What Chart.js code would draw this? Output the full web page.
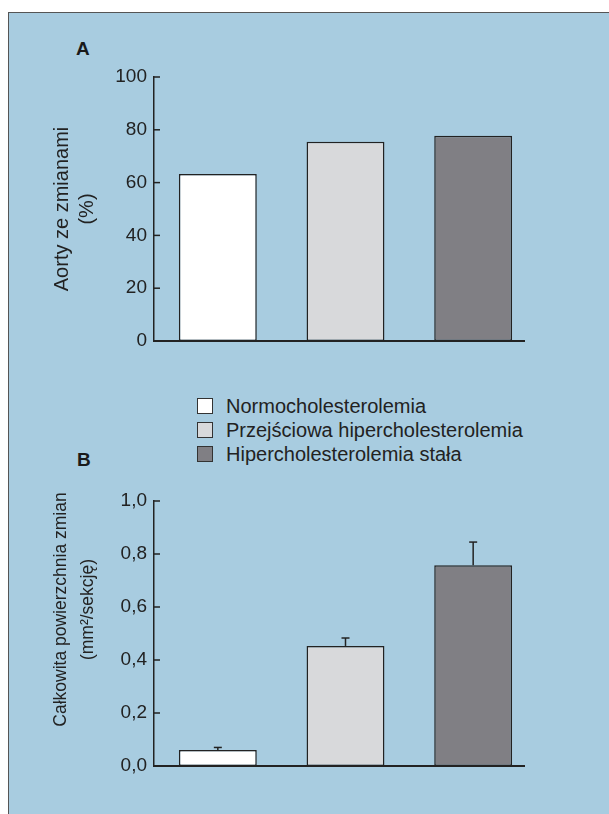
<!DOCTYPE html>
<html><head><meta charset="utf-8">
<script src="https://cdn.jsdelivr.net/npm/chart.js@4"></script>
<style>
html,body{margin:0;padding:0;background:#fff;width:609px;height:814px;overflow:hidden;font-family:"Liberation Sans",Arial,sans-serif;}
#panel{position:absolute;left:8px;top:12px;width:620px;height:820px;background:#a8cce0;border-left:1.5px solid #555;border-top:1.5px solid #555;}
canvas{position:absolute;left:0;top:0;}
.lbl{position:absolute;font-weight:bold;font-size:19px;color:#1a1a1a;line-height:22px;}
#legend{position:absolute;left:197px;top:394px;font-size:20px;color:#222;}
#legend div{height:24px;line-height:22px;display:flex;align-items:center;}
#legend span.sw{display:inline-block;width:14px;height:14px;border:1.3px solid #333;margin-right:13px;}
</style></head>
<body>
<div id="panel"></div>
<div class="lbl" style="left:76px;top:38px;">A</div>
<div class="lbl" style="left:77px;top:449px;">B</div>
<div id="legend"></div>
<canvas id="cA" width="609" height="814"></canvas>
<canvas id="cB" width="609" height="814"></canvas>
<script>
const categories = ['Normocholesterolemia','Przejściowa hipercholesterolemia','Hipercholesterolemia stała'];
const barColors = ['#ffffff','#d8d9db','#807f84'];
const valuesA = [63.3, 75.5, 77.7];
const valuesB = [0.06, 0.453, 0.758];
const errorsB = [0.01, 0.03, 0.087];
const ticksA = ['0','20','40','60','80','100'];
const ticksB = ['0,0','0,2','0,4','0,6','0,8','1,0'];
const titleA = ['Aorty ze zmianami','(%)'];
const titleB = ['Całkowita powierzchnia zmian','(mm²/sekcję)'];

const leg = document.getElementById('legend');
categories.forEach((c,i)=>{
  const d=document.createElement('div');
  d.innerHTML='<span class="sw" style="background:'+barColors[i]+'"></span>'+c;
  leg.appendChild(d);
});

const FONT = "'Liberation Sans', Arial, sans-serif";
const ink = '#222';

const axisPlugin = {
  id:'axisDecor',
  afterDraw(chart){
    const ctx=chart.ctx, y=chart.scales.y, a=chart.chartArea;
    const opt=chart.options.plugins.axisDecor;
    ctx.save();
    ctx.strokeStyle=ink; ctx.lineWidth=1.5;
    // inward ticks
    y.ticks.forEach(t=>{
      const py=y.getPixelForValue(t.value);
      ctx.beginPath(); ctx.moveTo(a.left,py); ctx.lineTo(a.left+6,py); ctx.stroke();
    });
    // x axis baseline
    const py0=y.getPixelForValue(0);
    ctx.lineWidth=2;
    ctx.beginPath(); ctx.moveTo(a.left,py0); ctx.lineTo(a.right-12,py0); ctx.stroke();
    // error bars
    if(opt.errors){
      const meta=chart.getDatasetMeta(0);
      const vals=chart.data.datasets[0].data;
      ctx.lineWidth=1.5;
      meta.data.forEach((bar,i)=>{
        const top=y.getPixelForValue(vals[i]);
        const e=y.getPixelForValue(vals[i]+opt.errors[i]);
        ctx.beginPath(); ctx.moveTo(bar.x,top); ctx.lineTo(bar.x,e); ctx.stroke();
        ctx.beginPath(); ctx.moveTo(bar.x-4,e); ctx.lineTo(bar.x+4,e); ctx.stroke();
      });
    }
    // axis title (rotated, multi-line)
    const t=opt.title;
    ctx.fillStyle=ink;
    ctx.font=t.size+'px '+FONT;
    ctx.textAlign='center'; ctx.textBaseline='middle';
    const cy=(a.top+a.bottom)/2+t.shift;
    t.text.forEach((line,i)=>{
      ctx.save();
      ctx.translate(t.x+i*t.gap, cy);
      ctx.rotate(-Math.PI/2);
      ctx.fillText(line,0,0);
      ctx.restore();
    });
    ctx.restore();
  }
};

function makeChart(id, values, max, step, tickLabels, title, pad, errors){
  return new Chart(document.getElementById(id),{
    type:'bar',
    data:{labels:categories,datasets:[{data:values,backgroundColor:barColors,borderColor:ink,borderWidth:1.5,borderSkipped:false,barPercentage:0.61,categoryPercentage:1}]},
    options:{
      responsive:false,animation:false,events:[],
      layout:{padding:pad},
      plugins:{legend:{display:false},tooltip:{enabled:false},axisDecor:{errors:errors,title:title}},
      scales:{
        x:{display:true,ticks:{display:false},grid:{display:false},border:{display:false},afterFit:s=>{s.height=0;}},
        y:{min:0,max:max,
           ticks:{stepSize:step,padding:7,color:ink,font:{family:FONT,size:19},callback:(v,i)=>tickLabels[i]},
           grid:{display:false,drawTicks:false},
           border:{display:true,color:ink,width:1.5},
           title:{display:false},
           afterFit:s=>{s.width=104;}}
      }
    },
    plugins:[axisPlugin]
  });
}
makeChart('cA', valuesA, 100, 20, ticksA, {text:titleA,size:20,x:62,gap:25,shift:0}, {left:50,right:72,top:77,bottom:473}, null);
makeChart('cB', valuesB, 1.0, 0.2, ticksB, {text:titleB,size:17.5,x:61.5,gap:27,shift:-24}, {left:50,right:72,top:501,bottom:48}, errorsB);
</script>
</body></html>
